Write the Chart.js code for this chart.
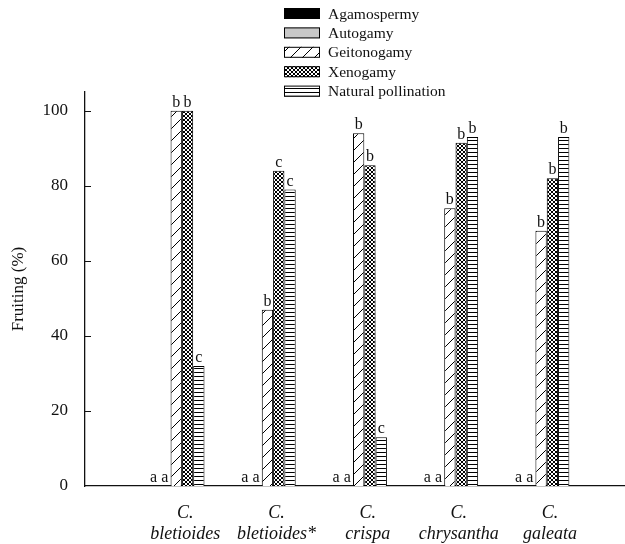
<!DOCTYPE html>
<html>
<head>
<meta charset="utf-8">
<script src="https://cdn.jsdelivr.net/npm/chart.js@4.4.1/dist/chart.umd.min.js"></script>
<style>
  html, body { margin: 0; padding: 0; background: #fff; }
  #wrap { width: 625px; height: 544px; }
</style>
</head>
<body>
<div id="wrap"><canvas id="fruitChart"></canvas></div>
<script>
// species on the x axis (two lines each, italic)
const species = [
  ['C.', 'bletioides'],
  ['C.', 'bletioides*'],
  ['C.', 'crispa'],
  ['C.', 'chrysantha'],
  ['C.', 'galeata']
];
const treatments = ['Agamospermy', 'Autogamy', 'Geitonogamy', 'Xenogamy', 'Natural pollination'];

// fruiting (%) per species
const agamospermy = [0, 0, 0, 0, 0];
const autogamy    = [0, 0, 0, 0, 0];
const geitonogamy = [100, 47, 94, 74, 68];
const xenogamy    = [100, 84, 85.5, 91.5, 82];
const natural     = [32, 79, 13, 93, 93];

// significance letters above the bars
const lettersAga   = ['a', 'a', 'a', 'a', 'a'];
const lettersAuto  = ['a', 'a', 'a', 'a', 'a'];
const lettersGeito = ['b', 'b', 'b', 'b', 'b'];
const lettersXeno  = ['b', 'c', 'b', 'b', 'b'];
const lettersNat   = ['c', 'c', 'c', 'b', 'b'];

const yTicks = [0, 20, 40, 60, 80, 100];

const SERIF = '"Liberation Serif", "Times New Roman", serif';

function makePattern(w, h, paint) {
  const c = document.createElement('canvas');
  c.width = w; c.height = h;
  const g = c.getContext('2d');
  g.fillStyle = '#fff';
  g.fillRect(0, 0, w, h);
  g.strokeStyle = '#000';
  g.fillStyle = '#000';
  paint(g, w, h);
  return document.getElementById('fruitChart').getContext('2d').createPattern(c, 'repeat');
}

const diagPattern = makePattern(12, 12, function (g, w, h) {
  g.lineWidth = 1;
  g.beginPath();
  g.moveTo(-1, h + 1); g.lineTo(w + 1, -1);
  g.stroke();
});
const crossPattern = makePattern(4, 4, function (g, w, h) {
  g.lineWidth = 1;
  g.beginPath();
  g.moveTo(0, 0); g.lineTo(w, h);
  g.moveTo(w, 0); g.lineTo(0, h);
  g.stroke();
});
const hlinePattern = makePattern(4, 4, function (g, w, h) {
  g.fillRect(0, 0, w, 1);
});

function points(arr) {
  return arr.map(function (v, i) { return { x: i + 1, y: v }; });
}

const series = [
  { label: treatments[0], data: agamospermy, letters: lettersAga,   fill: '#000' },
  { label: treatments[1], data: autogamy,    letters: lettersAuto,  fill: '#c8c8c8' },
  { label: treatments[2], data: geitonogamy, letters: lettersGeito, fill: diagPattern },
  { label: treatments[3], data: xenogamy,    letters: lettersXeno,  fill: crossPattern },
  { label: treatments[4], data: natural,     letters: lettersNat,   fill: hlinePattern }
];

const letterPlugin = {
  id: 'letters',
  afterDatasetsDraw(chart) {
    const ctx = chart.ctx;
    ctx.save();
    ctx.font = '16px ' + SERIF;
    ctx.fillStyle = '#111';
    ctx.textAlign = 'center';
    ctx.textBaseline = 'alphabetic';
    series.forEach(function (s, d) {
      const meta = chart.getDatasetMeta(d);
      meta.data.forEach(function (bar, i) {
        ctx.fillText(s.letters[i], bar.x, bar.y - 4);
      });
    });
    ctx.restore();
  }
};

// y ticks point into the plot
const innerTicks = {
  id: 'innerTicks',
  afterDraw(chart) {
    const ctx = chart.ctx;
    const y = chart.scales.y;
    const left = chart.chartArea.left;
    ctx.save();
    ctx.strokeStyle = '#111';
    ctx.lineWidth = 1.2;
    ctx.beginPath();
    yTicks.forEach(function (v) {
      if (v === 0) return;
      const py = Math.round(y.getPixelForValue(v)) + 0.5;
      ctx.moveTo(left, py);
      ctx.lineTo(left + 6, py);
    });
    ctx.stroke();
    ctx.restore();
  }
};

// stacked legend at the top
const boxLegend = {
  id: 'boxLegend',
  afterDraw(chart) {
    const ctx = chart.ctx;
    ctx.save();
    ctx.font = '15.5px ' + SERIF;
    ctx.textBaseline = 'middle';
    ctx.textAlign = 'left';
    series.forEach(function (s, i) {
      const cy = 13.5 + i * 19.4;
      ctx.fillStyle = s.fill;
      ctx.fillRect(284, cy - 5.5, 36, 11);
      ctx.strokeStyle = '#000';
      ctx.lineWidth = 1;
      ctx.strokeRect(284.5, cy - 5, 35, 10);
      ctx.fillStyle = '#111';
      ctx.fillText(s.label, 328, cy + 1);
    });
    ctx.restore();
  }
};

new Chart(document.getElementById('fruitChart'), {
  type: 'bar',
  data: {
    datasets: series.map(function (s) {
      return {
        label: s.label,
        data: points(s.data),
        backgroundColor: s.fill,
        borderColor: '#000',
        borderWidth: 1,
        borderSkipped: 'bottom'
      };
    })
  },
  options: {
    responsive: true,
    maintainAspectRatio: false,
    animation: false,
    layout: { padding: { top: 92, right: 0, left: 0, bottom: 0 } },
    datasets: { bar: { categoryPercentage: 0.62, barPercentage: 1 } },
    plugins: { legend: { display: false }, tooltip: { enabled: false } },
    scales: {
      x: {
        type: 'linear',
        offset: false,
        min: 0,
        max: 5.92,
        grid: { display: false, drawTicks: false },
        border: { display: true, color: '#111', width: 1.3 },
        afterBuildTicks: function (scale) {
          scale.ticks = species.map(function (s, i) { return { value: i + 1 }; });
        },
        afterFit: function (scale) { scale.height = 58; },
        ticks: {
          autoSkip: false,
          maxRotation: 0,
          minRotation: 0,
          padding: 17,
          labelOffset: 9,
          color: '#111',
          font: { family: SERIF, size: 18, style: 'italic', lineHeight: 1.17 },
          callback: function (v) { return species[v - 1] || ''; }
        }
      },
      y: {
        min: 0,
        max: 105,
        grid: { display: false, drawTicks: false },
        border: { display: true, color: '#111', width: 1.3 },
        afterBuildTicks: function (scale) {
          scale.ticks = yTicks.map(function (v) { return { value: v }; });
        },
        afterFit: function (scale) { scale.width = 85; },
        ticks: {
          padding: 17,
          color: '#111',
          font: { family: SERIF, size: 17 }
        },
        title: {
          display: true,
          text: 'Fruiting (%)',
          color: '#111',
          padding: { top: 8, bottom: 0 },
          font: { family: SERIF, size: 17 }
        }
      }
    }
  },
  plugins: [letterPlugin, innerTicks, boxLegend]
});
</script>
</body>
</html>
